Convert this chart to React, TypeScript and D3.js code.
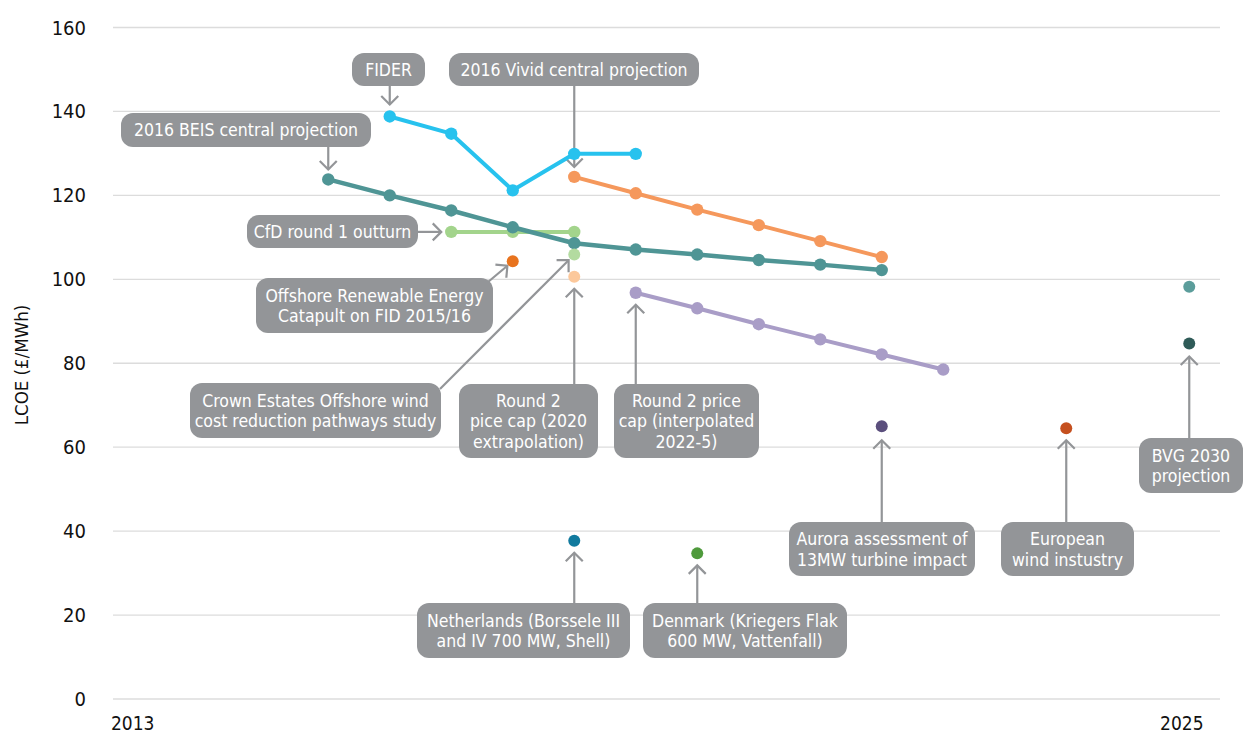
import React from "react";
import * as d3 from "d3";

// ---- Data (LCOE, £/MWh) ----
// x positions are period slots on the timeline (slot 0.5 = start of 2013, slot 18 = 2025 marker)
const fiderX = [5, 6, 7, 8, 9];
const fiderY = [138.8, 134.7, 121.2, 129.9, 129.9];

const vividX = [8, 9, 10, 11, 12, 13];
const vividY = [124.4, 120.5, 116.6, 112.9, 109.1, 105.3];

const beisX = [4, 5, 6, 7, 8, 9, 10, 11, 12, 13];
const beisY = [123.8, 120.0, 116.4, 112.4, 108.6, 107.1, 105.9, 104.6, 103.5, 102.2];

const cfdX = [6, 7, 8];
const cfdY = [111.3, 111.3, 111.3];

const round2InterpX = [9, 10, 11, 12, 13, 14];
const round2InterpY = [96.8, 93.1, 89.3, 85.7, 82.1, 78.5];

const singleNames = [
  "catapult",
  "crown",
  "round2cap2020",
  "netherlands",
  "denmark",
  "aurora",
  "european",
  "bvgA",
  "bvgB",
];
const singleX = [7, 8, 8, 8, 10, 13, 16, 18, 18];
const singleY = [104.3, 105.9, 100.6, 37.7, 34.7, 65.0, 64.5, 98.2, 84.7];
const singleColors = [
  "#e8731e",
  "#b3dba0",
  "#fcc89b",
  "#117a9e",
  "#4f9a3c",
  "#5b4f7d",
  "#c5501f",
  "#5b9d9b",
  "#2f5b58",
];

const yTicks = [0, 20, 40, 60, 80, 100, 120, 140, 160];
const xTickLabels = ["2013", "2025"];
const xTickSlots = [0.82, 17.88];

const FONT = "'Liberation Sans Narrow', 'DejaVu Sans Condensed', 'Roboto', sans-serif";
const GREY = "#939598";

type Callout = {
  lines: string[];
  box: [number, number, number, number];
  target: [number, number];
  from: [number | null, number];
  gap: number;
};

const callouts: Callout[] = [
  { lines: ["FIDER"], box: [352, 53, 73, 33], target: [fiderX[0], fiderY[0]], from: [null, 86], gap: 12 },
  { lines: ["2016 Vivid central projection"], box: [449, 53, 250, 33], target: [vividX[0], vividY[0]], from: [null, 86], gap: 10 },
  { lines: ["2016 BEIS central projection"], box: [121, 113, 250, 34], target: [beisX[0], beisY[0]], from: [null, 147], gap: 10 },
  { lines: ["CfD round 1 outturn"], box: [247, 215, 171, 33], target: [cfdX[0], cfdY[0]], from: [418, NaN], gap: 10 },
  { lines: ["Offshore Renewable Energy", "Catapult on FID 2015/16"], box: [256, 278, 237, 55], target: [singleX[0], singleY[0]], from: [488, 282], gap: 7 },
  { lines: ["Crown Estates Offshore wind", "cost reduction pathways study"], box: [190, 383, 251, 55], target: [singleX[1], singleY[1]], from: [440, 389], gap: 8 },
  { lines: ["Round 2", "pice cap (2020", "extrapolation)"], box: [459, 384, 139, 74], target: [singleX[2], singleY[2]], from: [null, 384], gap: 12 },
  { lines: ["Round 2 price", "cap (interpolated", "2022-5)"], box: [614, 384, 145, 74], target: [round2InterpX[0], round2InterpY[0]], from: [null, 384], gap: 12 },
  { lines: ["Netherlands (Borssele III", "and IV 700 MW, Shell)"], box: [417, 603, 213, 55], target: [singleX[3], singleY[3]], from: [null, 603], gap: 12 },
  { lines: ["Denmark (Kriegers Flak", "600 MW, Vattenfall)"], box: [643, 603, 204, 55], target: [singleX[4], singleY[4]], from: [null, 603], gap: 12 },
  { lines: ["Aurora assessment of", "13MW turbine impact"], box: [789, 522, 186, 54], target: [singleX[5], singleY[5]], from: [null, 522], gap: 14 },
  { lines: ["European", "wind instustry"], box: [1001, 522, 133, 54], target: [singleX[6], singleY[6]], from: [null, 522], gap: 12 },
  { lines: ["BVG 2030", "projection"], box: [1139, 438, 104, 55], target: [singleX[8], singleY[8]], from: [null, 438], gap: 13 },
];

const W = 1244;
const H = 736;

export default function App() {
  const x = d3.scaleLinear().domain([0.5, 18.5]).range([113, 1220]);
  const y = d3.scaleLinear().domain([0, 160]).range([699, 27.5]);

  const line = d3
    .line<[number, number]>()
    .x((d) => x(d[0]))
    .y((d) => y(d[1]));

  const series = [
    { xs: cfdX, ys: cfdY, color: "#a3d48c", w: 4 },
    { xs: beisX, ys: beisY, color: "#4f9595", w: 4.5 },
    { xs: fiderX, ys: fiderY, color: "#27c2ee", w: 4 },
    { xs: vividX, ys: vividY, color: "#f5985c", w: 4 },
    { xs: round2InterpX, ys: round2InterpY, color: "#a99dc7", w: 4 },
  ];

  const arrow = (c: Callout, i: number) => {
    const tx = x(c.target[0]);
    const ty = y(c.target[1]);
    const fx = c.from[0] == null ? tx : (c.from[0] as number);
    const fy = Number.isNaN(c.from[1]) ? ty : c.from[1];
    const dx = tx - fx;
    const dy = ty - fy;
    const len = Math.hypot(dx, dy);
    const ux = dx / len;
    const uy = dy / len;
    const ex = tx - ux * c.gap;
    const ey = ty - uy * c.gap;
    const a = 8.5;
    const px = -uy;
    const py = ux;
    const h1 = [ex - ux * a + px * a, ey - uy * a + py * a];
    const h2 = [ex - ux * a - px * a, ey - uy * a - py * a];
    return (
      <g key={"a" + i} stroke={GREY} strokeWidth={2.2} fill="none">
        <line x1={fx} y1={fy} x2={ex} y2={ey} />
        <path d={`M${h1[0]},${h1[1]}L${ex},${ey}L${h2[0]},${h2[1]}`} />
      </g>
    );
  };

  return (
    <svg
      width={W}
      height={H}
      style={{ position: "absolute", left: 0, top: 0, background: "#fff" }}
      fontFamily={FONT}
    >
      {/* gridlines */}
      {yTicks.map((t) => (
        <line key={"g" + t} x1={113} x2={1220} y1={y(t)} y2={y(t)} stroke="#dcdcdc" strokeWidth={1.3} />
      ))}
      {/* y tick labels */}
      {yTicks.map((t) => (
        <text key={"yt" + t} x={86} y={y(t)} dy="0.35em" textAnchor="end" fontSize={20} fontWeight={500} fill="#111">
          {t}
        </text>
      ))}
      {/* x labels */}
      {xTickLabels.map((l, i) => (
        <text key={"xt" + l} x={x(xTickSlots[i])} y={730} textAnchor="middle" fontSize={19} fontWeight={500} fill="#111">
          {l}
        </text>
      ))}
      {/* y axis title */}
      <text transform="translate(28,365) rotate(-90)" textAnchor="middle" fontSize={18.5} fontWeight={500} fill="#111">
        LCOE (£/MWh)
      </text>

      {/* arrows */}
      {callouts.map(arrow)}

      {/* lines with markers */}
      {series.map((s, si) => {
        const pts = s.xs.map((v, k) => [v, s.ys[k]] as [number, number]);
        return (
          <g key={"s" + si}>
            <path d={line(pts) || ""} fill="none" stroke={s.color} strokeWidth={s.w} strokeLinejoin="round" />
            {pts.map((p, k) => (
              <circle key={k} cx={x(p[0])} cy={y(p[1])} r={6.2} fill={s.color} />
            ))}
          </g>
        );
      })}

      {/* single estimates */}
      {singleNames.map((n, i) => (
        <circle key={n} cx={x(singleX[i])} cy={y(singleY[i])} r={6} fill={singleColors[i]} />
      ))}

      {/* callout boxes */}
      {callouts.map((c, i) => {
        const [bx, by, bw, bh] = c.box;
        const lh = 20.5;
        const cy = by + bh / 2;
        const start = cy - ((c.lines.length - 1) * lh) / 2;
        return (
          <g key={"c" + i}>
            <rect x={bx} y={by} width={bw} height={bh} rx={12} fill={GREY} />
            {c.lines.map((l, k) => (
              <text
                key={k}
                x={bx + bw / 2}
                y={start + k * lh}
                dy="0.36em"
                textAnchor="middle"
                fontSize={17.5}
                fill="#fff"
              >
                {l}
              </text>
            ))}
          </g>
        );
      })}
    </svg>
  );
}
